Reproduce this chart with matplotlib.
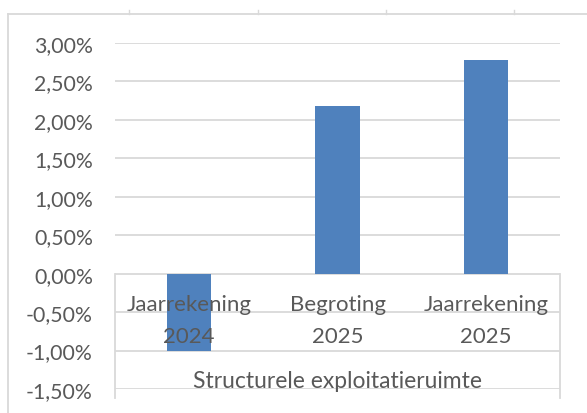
import matplotlib
matplotlib.use("Agg")
import matplotlib.pyplot as plt
from matplotlib.lines import Line2D

# gegevens
categorieen = ["Jaarrekening\n2024", "Begroting\n2025", "Jaarrekening\n2025"]
waarden = [-1.00, 2.18, 2.78]   # in procenten
yticks = [-1.5, -1.0, -0.5, 0.0, 0.5, 1.0, 1.5, 2.0, 2.5, 3.0]
groep = "Structurele exploitatieruimte"

W, H = 587, 414
grijs = "#d9d9d9"
tekst = "#595959"
blauw = "#4f81bd"
plt.rcParams["font.family"] = ["Lato", "DejaVu Sans"]

fig = plt.figure(figsize=(W / 100, H / 100), dpi=100)


def fx(x):
    return x / W


def fy(y):
    return 1 - y / H


ax = fig.add_axes([fx(115), fy(390), fx(560) - fx(115), fy(44) - fy(390)])
ax.set_xlim(0, len(categorieen))
ax.set_ylim(-1.5, 3.0)

x = [i + 0.5 for i in range(len(categorieen))]
ax.bar(x, waarden, width=0.30, color=blauw, zorder=2)

ax.set_yticks(yticks)
ax.set_yticklabels([f"{v:.2f}%".replace(".", ",") for v in yticks])
ax.tick_params(axis="y", length=0, pad=16, labelsize=15.3, labelcolor=tekst)
ax.set_xticks([])
ax.yaxis.grid(True, color=grijs, lw=1.3)
ax.set_axisbelow(True)
for s in ax.spines.values():
    s.set_visible(False)

# categorie-tabel onder de nullijn
for xv in (0, len(categorieen)):
    ax.plot([xv, xv], [0, -1.62], color=grijs, lw=1.3, clip_on=False, zorder=1)

for xi, lab in zip(x, categorieen):
    boven, onder = lab.split("\n")
    ax.text(xi, -0.47, boven, ha="center", va="baseline", fontsize=16,
            color=tekst, zorder=3)
    ax.text(xi, -0.885, onder, ha="center", va="baseline", fontsize=16,
            color=tekst, zorder=3)
ax.text(len(categorieen) / 2, -1.48, groep, ha="center", va="baseline",
        fontsize=16.5, color=tekst, zorder=3)

# kader van het grafiekgebied
fig.add_artist(Line2D([fx(8), fx(8)], [fy(15), fy(414)], color=grijs, lw=1.3))
fig.add_artist(Line2D([fx(8), fx(587)], [fy(15), fy(15)], color=grijs, lw=1.3))
for xc in (129, 258, 386, 514):
    fig.add_artist(Line2D([fx(xc), fx(xc)], [fy(11), fy(15)], color=grijs, lw=1))

fig.savefig("out.png", dpi=100)
